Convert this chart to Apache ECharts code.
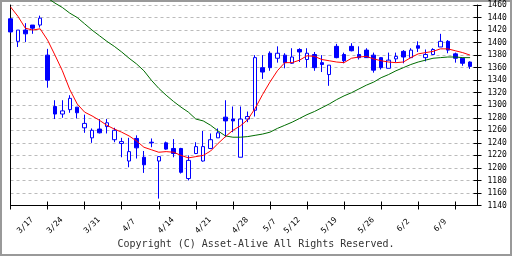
<!DOCTYPE html>
<html>
<head>
<meta charset="utf-8">
<script src="https://cdn.jsdelivr.net/npm/echarts@6/dist/echarts.min.js"></script>
<style>
html, body { margin: 0; padding: 0; background: #fff; }
#container { width: 512px; height: 256px; }
</style>
</head>
<body>
<div id="container"></div>
<script>
// trading days (last slot is empty)
var dates = ['3/17','3/18','3/19','3/21','3/24','3/25','3/26','3/27','3/28','3/31',
    '4/1','4/2','4/3','4/4','4/7','4/8','4/9','4/10','4/11','4/14',
    '4/15','4/16','4/17','4/18','4/21','4/22','4/23','4/24','4/25','4/28',
    '4/30','5/1','5/2','5/7','5/8','5/9','5/12','5/13','5/14','5/15',
    '5/16','5/19','5/20','5/21','5/22','5/23','5/26','5/27','5/28','5/29',
    '5/30','6/2','6/3','6/4','6/5','6/6','6/9','6/10','6/11','6/12',
    '6/13','6/16','6/17','6/18'];
var weekLabels = ['3/17','3/24','3/31','4/7','4/14','4/21','4/28','5/7','5/12','5/19','5/26','6/2','6/9'];

var openPrices = [1438,1402,1420,1428,1428,1380,1298,1286,1293,1297,
    1264,1248,1262,1266,1245,1239,1211,1247,1217,1241,
    1211,1240,1231,1231,1183,1223,1211,1231,1248,1281,
    1278,1217,1278,1292,1360,1383,1375,1380,1367,1389,
    1373,1381,1368,1349,1394,1381,1394,1381,1388,1380,
    1376,1359,1374,1386,1376,1395,1376,1381,1393,1402,
    1382,1375,1369];
var closePrices = [1417,1420,1414,1423,1439,1340,1286,1291,1311,1288,
    1271,1260,1256,1272,1260,1242,1226,1232,1205,1240,
    1218,1230,1223,1193,1212,1234,1234,1245,1256,1275,
    1275,1278,1282,1376,1353,1360,1383,1368,1377,1385,
    1383,1360,1365,1364,1376,1371,1387,1376,1376,1356,
    1360,1372,1378,1377,1388,1391,1381,1389,1402,1388,
    1375,1367,1362];
var lowPrices = [1416,1393,1401,1414,1424,1328,1278,1280,1288,1279,
    1256,1240,1255,1255,1241,1217,1201,1215,1192,1233,
    1151,1229,1217,1191,1180,1222,1210,1230,1248,1249,
    1257,1217,1273,1282,1342,1355,1368,1359,1366,1369,
    1360,1355,1353,1331,1375,1367,1386,1373,1376,1352,
    1357,1359,1369,1367,1376,1385,1370,1381,1393,1383,
    1368,1363,1358];
var highPrices = [1439,1420,1431,1428,1443,1390,1308,1308,1316,1297,
    1285,1263,1278,1278,1264,1248,1248,1252,1227,1247,
    1219,1242,1246,1232,1220,1241,1259,1255,1263,1308,
    1298,1298,1290,1380,1380,1386,1394,1383,1391,1391,
    1391,1385,1380,1364,1398,1384,1399,1394,1391,1384,
    1377,1384,1384,1388,1391,1402,1389,1391,1414,1404,
    1384,1376,1370];

// short and long moving averages
var maShort = [1457,1442,1423,1420,1422,1404,1380,1355,1325,1302,
    1289,1283,1276,1268,1262,1257,1251,1243,1233,1229,
    1225,1226,1225,1220,1216,1218,1220,1227,1239,1250,
    1260,1267,1277,1295,1317,1337,1355,1368,1368,1372,
    1379,1378,1373,1371,1369,1368,1375,1377,1378,1374,
    1371,1369,1368,1369,1376,1382,1384,1386,1390,1390,
    1387,1384,1380];
var maLong = [1511,1503,1495,1487,1479,1471,1463,1456,1447,1440,
    1430,1420,1411,1402,1394,1385,1375,1366,1355,1340,
    1327,1316,1306,1297,1289,1278,1275,1268,1259,1251,
    1249,1249,1250,1252,1254,1257,1263,1268,1273,1279,
    1285,1290,1296,1302,1309,1315,1320,1326,1332,1337,
    1344,1349,1355,1360,1365,1369,1372,1375,1376,1377,
    1377,1376,1376];

var candles = [];
for (var i = 0; i < openPrices.length; i++) {
    candles.push([openPrices[i], closePrices[i], lowPrices[i], highPrices[i]]);
}

var LABEL_SHIFT = 2;
var font = 'DejaVu Sans Mono';

var myChart = echarts.init(document.getElementById('container'));
var option = {
    animation: false,
    backgroundColor: '#fff',
    title: {
        text: 'Copyright (C) Asset-Alive All Rights Reserved.',
        left: 'center',
        top: 239,
        padding: 0,
        textStyle: { fontFamily: font, fontSize: 10, fontWeight: 'normal', color: '#333' }
    },
    graphic: [{
        type: 'rect',
        shape: { x: 1, y: 1, width: 510, height: 254 },
        style: { fill: 'none', stroke: '#999', lineWidth: 2 },
        silent: true
    }],
    grid: { left: 10.5, right: 34.5, top: 5, bottom: 50.5 },
    xAxis: [{
        type: 'category',
        data: dates,
        boundaryGap: false,
        axisLine: { lineStyle: { color: '#000', width: 1 } },
        axisTick: { interval: 4, length: 4, lineStyle: { color: '#000' } },
        axisLabel: {
            rotate: 45,
            margin: 20,
            align: 'center',
            verticalAlign: 'middle',
            fontFamily: font,
            fontSize: 8,
            color: '#000',
            interval: function (index) {
                return weekLabels.indexOf(dates[index - LABEL_SHIFT]) >= 0;
            },
            formatter: function (value, index) {
                return dates[index - LABEL_SHIFT] || '';
            }
        },
        splitLine: { show: false }
    }, {
        type: 'category',
        data: dates,
        boundaryGap: false,
        position: 'bottom',
        axisLine: { show: false },
        axisTick: { interval: 4, length: 4, inside: true, lineStyle: { color: '#000' } },
        axisLabel: { show: false },
        splitLine: { show: false }
    }],
    yAxis: [{
        type: 'value',
        position: 'left',
        min: 1140, max: 1460, interval: 20,
        axisLine: { show: true, lineStyle: { color: '#000' } },
        axisTick: { show: false },
        axisLabel: { show: false },
        splitLine: { show: false }
    }, {
        type: 'value',
        position: 'right',
        min: 1140, max: 1460, interval: 20,
        axisLine: { show: true, lineStyle: { color: '#000' } },
        axisTick: { show: true, length: 4, lineStyle: { color: '#000' } },
        axisLabel: {
            margin: 10, fontFamily: font, fontSize: 8, color: '#000',
            formatter: function (v) { return String(v); }
        },
        splitLine: { show: true, lineStyle: { color: '#bbb', type: [3, 3], width: 1 } }
    }, {
        type: 'value',
        position: 'right',
        min: 1140, max: 1460, interval: 20,
        axisLine: { show: false },
        axisTick: { show: true, inside: true, length: 4, lineStyle: { color: '#000' } },
        axisLabel: { show: false },
        splitLine: { show: false }
    }],
    series: [{
        type: 'candlestick',
        yAxisIndex: 1,
        data: candles,
        barWidth: 4,
        itemStyle: {
            color: '#fff',
            color0: '#0000ff',
            borderColor: '#0000ff',
            borderColor0: '#0000ff',
            borderWidth: 1
        }
    }, {
        type: 'line',
        yAxisIndex: 1,
        data: maLong,
        symbol: 'none',
        clip: false,
        lineStyle: { color: '#006c00', width: 1 }
    }, {
        type: 'line',
        yAxisIndex: 1,
        data: maShort,
        symbol: 'none',
        lineStyle: { color: '#ff0000', width: 1 }
    }]
};
if (option && typeof option === 'object') {
    myChart.setOption(option, true);
}
</script>
</body>
</html>
